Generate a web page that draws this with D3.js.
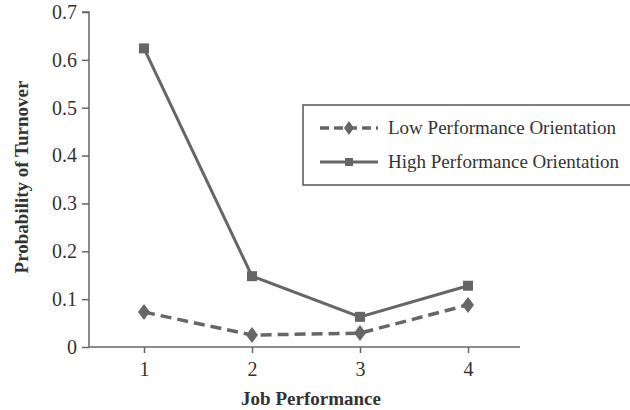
<!DOCTYPE html>
<html><head><meta charset="utf-8">
<script src="https://cdn.jsdelivr.net/npm/d3@7"></script>
<style>body{margin:0;background:#fff}svg{display:block}text{font-family:"Liberation Serif","Times New Roman",serif;fill:#333}</style>
</head><body><svg id="c" width="630" height="410"></svg>
<script>
const categories = ["1","2","3","4"];
const lowValues = [0.073, 0.025, 0.029, 0.088];
const highValues = [0.624, 0.148, 0.063, 0.128];
const yTicks = [0,0.1,0.2,0.3,0.4,0.5,0.6,0.7];
const seriesNames = ["Low Performance Orientation","High Performance Orientation"];

const svg = d3.select("#c");
const x = d3.scalePoint().domain(categories).range([90,522]).padding(0.5);
const y = d3.scaleLinear().domain([0,0.7]).range([347,12]);
const col = "#666";

const yAxis = svg.append("g").attr("transform","translate(89,0)")
  .call(d3.axisLeft(y).tickValues(yTicks).tickFormat(d=>d===0?"0":d3.format(".1f")(d)).tickSize(7).tickPadding(5));
yAxis.select(".domain").attr("d","M-7,12H0V347").attr("stroke",col).attr("stroke-width",1.5);
yAxis.selectAll(".tick line").attr("stroke",col).attr("stroke-width",1.5);
yAxis.selectAll("text").style("font-size","20px").style("font-family","Liberation Serif, serif").attr("fill","#333");

const xAxis = svg.append("g").attr("transform","translate(0,347)")
  .call(d3.axisBottom(x).tickSize(6).tickPadding(9));
xAxis.select(".domain").attr("d","M89,0H520").attr("stroke",col).attr("stroke-width",1.5);
xAxis.selectAll(".tick line").attr("stroke",col).attr("stroke-width",1.5);
xAxis.selectAll("text").style("font-size","20px").style("font-family","Liberation Serif, serif").attr("fill","#333");

svg.append("text").attr("x",311).attr("y",405).attr("text-anchor","middle")
  .style("font-size","19px").style("font-weight","bold").text("Job Performance");
svg.append("text").attr("transform","translate(28,177) rotate(-90)").attr("text-anchor","middle")
  .style("font-size","19px").style("font-weight","bold").text("Probability of Turnover");

const line = d3.line().x((d,i)=>x(categories[i])).y(d=>y(d));
svg.append("path").datum(highValues).attr("d",line).attr("fill","none").attr("stroke",col).attr("stroke-width",3);
svg.append("path").datum(lowValues).attr("d",line).attr("fill","none").attr("stroke",col).attr("stroke-width",3.5).attr("stroke-dasharray","11,6");

const diamond = "M0,-8L6,0L0,8L-6,0Z";
svg.selectAll(".hi").data(highValues).enter().append("rect")
  .attr("x",(d,i)=>x(categories[i])-5).attr("y",d=>y(d)-5).attr("width",10).attr("height",10).attr("fill",col);
svg.selectAll(".lo").data(lowValues).enter().append("path")
  .attr("transform",(d,i)=>`translate(${x(categories[i])},${y(d)})`).attr("d",diamond).attr("fill",col);

// legend
const lg = svg.append("g");
lg.append("rect").attr("x",303).attr("y",105).attr("width",330).attr("height",80).attr("fill","#fff").attr("stroke","#555").attr("stroke-width",1.5);
const ly = [128,162];
lg.append("line").attr("x1",320).attr("x2",378).attr("y1",ly[0]).attr("y2",ly[0]).attr("stroke",col).attr("stroke-width",3.5).attr("stroke-dasharray","9,5");
lg.append("path").attr("transform",`translate(349,${ly[0]})`).attr("d","M0,-7L5,0L0,7L-5,0Z").attr("fill",col);
lg.append("line").attr("x1",320).attr("x2",378).attr("y1",ly[1]).attr("y2",ly[1]).attr("stroke",col).attr("stroke-width",3);
lg.append("rect").attr("x",345).attr("y",ly[1]-4).attr("width",8).attr("height",8).attr("fill",col);
lg.selectAll(".lt").data(seriesNames).enter().append("text")
  .attr("x",388).attr("y",(d,i)=>ly[i]+6).style("font-size","19px").text(d=>d);
</script></body></html>
